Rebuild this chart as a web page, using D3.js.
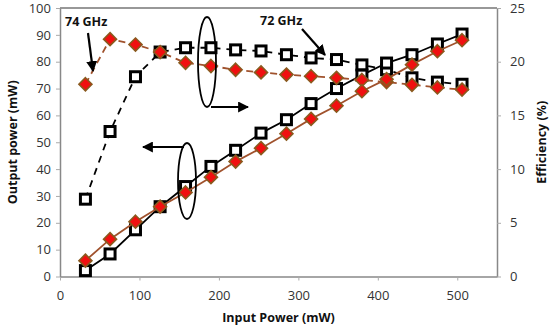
<!DOCTYPE html>
<meta charset="utf-8">
<style>
body { margin: 0; background: #fff; }
text { font-family: "Open Sans", "Noto Sans", sans-serif; }
.lbl { font-size: 12.5px; font-weight: bold; fill: #111; }
.note { font-size: 12.5px; font-weight: bold; fill: #111; }
</style>
<body>
<script src="https://d3js.org/d3.v7.min.js"></script>
<script>
// input power (mW)
var inputPower = [32, 63, 95, 126, 158, 190, 221, 253, 285, 316, 348, 380, 411, 443, 475, 506];
// output power (mW)
var out72 = [2.2, 8.4, 17.4, 26, 33.5, 41, 47, 53.4, 58.4, 64.4, 70, 75, 79.5, 82.6, 86.6, 90.3];
var out74 = [5.9, 13.9, 20.4, 26, 31.3, 37, 42.8, 47.8, 53.2, 58.7, 63.6, 69, 73.5, 78.9, 83.9, 88];
// efficiency (%)
var eff72 = [7.2, 13.5, 18.6, 20.9, 21.3, 21.3, 21.1, 21.0, 20.65, 20.35, 20.2, 19.7, 19.25, 18.5, 18.1, 17.9];
var eff74 = [17.9, 22.1, 21.6, 20.9, 19.9, 19.6, 19.25, 19.0, 18.8, 18.65, 18.5, 18.3, 18.1, 17.85, 17.6, 17.4];

var xTicks = [0, 100, 200, 300, 400, 500];
var yLTicks = [0, 10, 20, 30, 40, 50, 60, 70, 80, 90, 100];
var yRTicks = [0, 5, 10, 15, 20, 25];

var W = 550, H = 330;
var pL = 60, pR = 497, pT = 8, pB = 276.5;

var svg = d3.select("body").append("svg").attr("width", W).attr("height", H);

var x = d3.scaleLinear().domain([0, 550]).range([pL, pR]);
var yL = d3.scaleLinear().domain([0, 100]).range([pB, pT]);
var yR = d3.scaleLinear().domain([0, 25]).range([pB, pT]);

var defs = svg.append("defs");
defs.append("marker").attr("id", "arr")
	.attr("viewBox", "0 0 10 10").attr("refX", 9).attr("refY", 5)
	.attr("markerWidth", 5).attr("markerHeight", 5).attr("orient", "auto")
	.append("path").attr("d", "M0,0L10,5L0,10z").attr("fill", "#000");

// top border
svg.append("line").attr("x1", pL).attr("x2", pR).attr("y1", pT).attr("y2", pT)
	.attr("stroke", "#333").attr("stroke-width", 1.2);

// axes
function styleAxis(g) {
	g.select(".domain").attr("stroke", "#888").attr("stroke-width", 1.5);
	g.selectAll(".tick line").attr("stroke", "#aaa");
	g.selectAll(".tick text").style("font-size", "13px").attr("fill", "#333")
		.style("font-family", "'Open Sans', 'Noto Sans', sans-serif");
}
svg.append("g").attr("transform", "translate(0," + pB + ")")
	.call(d3.axisBottom(x).tickValues(xTicks).tickSize(4).tickSizeOuter(0).tickPadding(10))
	.call(styleAxis);
svg.append("g").attr("transform", "translate(" + pL + ",0)")
	.call(d3.axisLeft(yL).tickValues(yLTicks).tickSize(4).tickSizeOuter(0).tickPadding(5))
	.call(styleAxis);
svg.append("g").attr("transform", "translate(" + pR + ",0)")
	.call(d3.axisRight(yR).tickValues(yRTicks).tickSize(4).tickSizeOuter(0).tickPadding(9))
	.call(styleAxis);

// axis titles
svg.append("text").attr("class", "lbl").attr("x", (pL + pR) / 2).attr("y", 322)
	.attr("text-anchor", "middle").text("Input Power (mW)");
svg.append("text").attr("class", "lbl").attr("transform", "translate(17," + ((pT + pB) / 2) + ") rotate(-90)")
	.attr("text-anchor", "middle").text("Output power (mW)");
svg.append("text").attr("class", "lbl").attr("transform", "translate(546," + ((pT + pB) / 2) + ") rotate(-90)")
	.attr("text-anchor", "middle").text("Efficiency (%)");

function series(vals, yScale, color, dash, shape) {
	var pts = inputPower.map(function(d, i) { return [x(d), yScale(vals[i])]; });
	svg.append("path").attr("d", d3.line()(pts))
		.attr("fill", "none").attr("stroke", color).attr("stroke-width", 1.8)
		.attr("stroke-dasharray", dash);
	var m = svg.append("g").selectAll("g").data(pts).join("g")
		.attr("transform", function(p) { return "translate(" + p[0] + "," + p[1] + ")"; });
	if (shape === "square") {
		m.append("rect").attr("x", -5).attr("y", -5).attr("width", 10).attr("height", 10)
			.attr("fill", "#fff").attr("stroke", "#000").attr("stroke-width", 3);
	} else {
		m.append("path").attr("d", "M0,-6.5L6.5,0L0,6.5L-6.5,0Z")
			.attr("fill", "#f01010").attr("stroke", "#8a5a1e").attr("stroke-width", 1.6);
	}
}

series(eff72, yR, "#000", "7,6", "square");
series(out72, yL, "#000", null, "square");
series(eff74, yR, "#a0522d", "7,5", "diamond");
series(out74, yL, "#a0522d", null, "diamond");

// annotations
svg.append("text").attr("class", "note").attr("x", 65).attr("y", 26).text("74 GHz");
svg.append("line").attr("x1", 88).attr("y1", 33).attr("x2", 93).attr("y2", 71)
	.attr("stroke", "#000").attr("stroke-width", 2.2).attr("marker-end", "url(#arr)");

svg.append("text").attr("class", "note").attr("x", 260).attr("y", 25).text("72 GHz");
svg.append("line").attr("x1", 302).attr("y1", 29).attr("x2", 325).attr("y2", 55)
	.attr("stroke", "#000").attr("stroke-width", 2.2).attr("marker-end", "url(#arr)");

// ellipse around efficiency curves, pointing right
svg.append("ellipse").attr("cx", 207).attr("cy", 62).attr("rx", 9).attr("ry", 45)
	.attr("fill", "none").attr("stroke", "#000").attr("stroke-width", 1.8);
svg.append("line").attr("x1", 211).attr("y1", 107).attr("x2", 248).attr("y2", 107)
	.attr("stroke", "#000").attr("stroke-width", 2.2).attr("marker-end", "url(#arr)");

// ellipse around output curves, pointing left
svg.append("ellipse").attr("cx", 187).attr("cy", 181).attr("rx", 9).attr("ry", 38)
	.attr("fill", "none").attr("stroke", "#000").attr("stroke-width", 1.8);
svg.append("line").attr("x1", 184).attr("y1", 147).attr("x2", 143).attr("y2", 147)
	.attr("stroke", "#000").attr("stroke-width", 2.2).attr("marker-end", "url(#arr)");
</script>
</body>
